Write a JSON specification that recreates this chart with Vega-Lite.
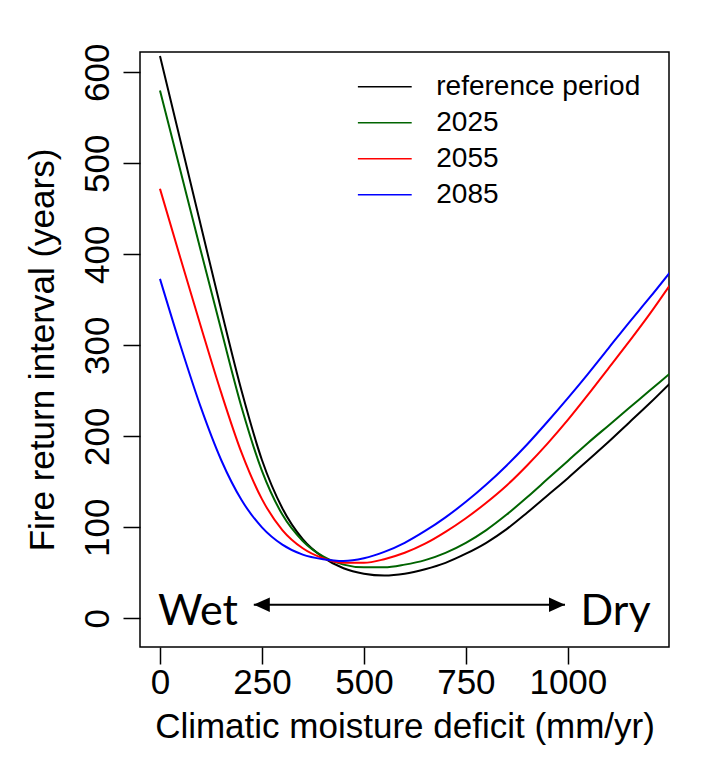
{
  "$schema": "https://vega.github.io/schema/vega-lite/v6.json",
  "width": 529,
  "height": 595,
  "autosize": {"type": "none"},
  "padding": {"left": 140, "top": 52, "right": 35, "bottom": 116},
  "background": "white",
  "config": {
    "view": {"stroke": "black", "strokeWidth": 1.5, "fill": "white"},
    "font": "Liberation Sans",
    "axis": {
      "domain": false,
      "grid": false,
      "ticks": true,
      "tickSize": 17,
      "tickColor": "black",
      "tickWidth": 1.5,
      "labelFont": "Liberation Sans",
      "labelFontSize": 35,
      "labelColor": "black",
      "titleFont": "Liberation Sans",
      "titleFontSize": 35,
      "titleFontWeight": "normal",
      "titleColor": "black"
    }
  },
  "datasets": {
    "curves": [
      {"cmd": 0, "fri": 618, "period": "reference period"},
      {"cmd": 50, "fri": 525, "period": "reference period"},
      {"cmd": 100, "fri": 432, "period": "reference period"},
      {"cmd": 150, "fri": 339, "period": "reference period"},
      {"cmd": 200, "fri": 250, "period": "reference period"},
      {"cmd": 250, "fri": 174, "period": "reference period"},
      {"cmd": 300, "fri": 121, "period": "reference period"},
      {"cmd": 350, "fri": 87, "period": "reference period"},
      {"cmd": 400, "fri": 67, "period": "reference period"},
      {"cmd": 450, "fri": 55, "period": "reference period"},
      {"cmd": 500, "fri": 49, "period": "reference period"},
      {"cmd": 550, "fri": 47, "period": "reference period"},
      {"cmd": 600, "fri": 49, "period": "reference period"},
      {"cmd": 650, "fri": 54, "period": "reference period"},
      {"cmd": 700, "fri": 61, "period": "reference period"},
      {"cmd": 750, "fri": 71, "period": "reference period"},
      {"cmd": 800, "fri": 83, "period": "reference period"},
      {"cmd": 850, "fri": 98, "period": "reference period"},
      {"cmd": 900, "fri": 116, "period": "reference period"},
      {"cmd": 950, "fri": 135, "period": "reference period"},
      {"cmd": 1000, "fri": 154, "period": "reference period"},
      {"cmd": 1050, "fri": 174, "period": "reference period"},
      {"cmd": 1100, "fri": 194, "period": "reference period"},
      {"cmd": 1150, "fri": 215, "period": "reference period"},
      {"cmd": 1200, "fri": 236, "period": "reference period"},
      {"cmd": 1250, "fri": 258, "period": "reference period"},

      {"cmd": 0, "fri": 580, "period": "2025"},
      {"cmd": 50, "fri": 492, "period": "2025"},
      {"cmd": 100, "fri": 404, "period": "2025"},
      {"cmd": 150, "fri": 317, "period": "2025"},
      {"cmd": 200, "fri": 232, "period": "2025"},
      {"cmd": 250, "fri": 162, "period": "2025"},
      {"cmd": 300, "fri": 114, "period": "2025"},
      {"cmd": 350, "fri": 85, "period": "2025"},
      {"cmd": 400, "fri": 68, "period": "2025"},
      {"cmd": 450, "fri": 59, "period": "2025"},
      {"cmd": 500, "fri": 56, "period": "2025"},
      {"cmd": 550, "fri": 56, "period": "2025"},
      {"cmd": 600, "fri": 59, "period": "2025"},
      {"cmd": 650, "fri": 64, "period": "2025"},
      {"cmd": 700, "fri": 72, "period": "2025"},
      {"cmd": 750, "fri": 83, "period": "2025"},
      {"cmd": 800, "fri": 97, "period": "2025"},
      {"cmd": 850, "fri": 114, "period": "2025"},
      {"cmd": 900, "fri": 133, "period": "2025"},
      {"cmd": 950, "fri": 153, "period": "2025"},
      {"cmd": 1000, "fri": 173, "period": "2025"},
      {"cmd": 1050, "fri": 193, "period": "2025"},
      {"cmd": 1100, "fri": 212, "period": "2025"},
      {"cmd": 1150, "fri": 231, "period": "2025"},
      {"cmd": 1200, "fri": 250, "period": "2025"},
      {"cmd": 1250, "fri": 269, "period": "2025"},

      {"cmd": 0, "fri": 472, "period": "2055"},
      {"cmd": 50, "fri": 396, "period": "2055"},
      {"cmd": 100, "fri": 321, "period": "2055"},
      {"cmd": 150, "fri": 248, "period": "2055"},
      {"cmd": 200, "fri": 182, "period": "2055"},
      {"cmd": 250, "fri": 131, "period": "2055"},
      {"cmd": 300, "fri": 97, "period": "2055"},
      {"cmd": 350, "fri": 77, "period": "2055"},
      {"cmd": 400, "fri": 66, "period": "2055"},
      {"cmd": 450, "fri": 61, "period": "2055"},
      {"cmd": 500, "fri": 61, "period": "2055"},
      {"cmd": 550, "fri": 65, "period": "2055"},
      {"cmd": 600, "fri": 72, "period": "2055"},
      {"cmd": 650, "fri": 82, "period": "2055"},
      {"cmd": 700, "fri": 95, "period": "2055"},
      {"cmd": 750, "fri": 110, "period": "2055"},
      {"cmd": 800, "fri": 127, "period": "2055"},
      {"cmd": 850, "fri": 146, "period": "2055"},
      {"cmd": 900, "fri": 168, "period": "2055"},
      {"cmd": 950, "fri": 192, "period": "2055"},
      {"cmd": 1000, "fri": 218, "period": "2055"},
      {"cmd": 1050, "fri": 246, "period": "2055"},
      {"cmd": 1100, "fri": 275, "period": "2055"},
      {"cmd": 1150, "fri": 304, "period": "2055"},
      {"cmd": 1200, "fri": 334, "period": "2055"},
      {"cmd": 1250, "fri": 366, "period": "2055"},

      {"cmd": 0, "fri": 373, "period": "2085"},
      {"cmd": 50, "fri": 300, "period": "2085"},
      {"cmd": 100, "fri": 232, "period": "2085"},
      {"cmd": 150, "fri": 174, "period": "2085"},
      {"cmd": 200, "fri": 130, "period": "2085"},
      {"cmd": 250, "fri": 100, "period": "2085"},
      {"cmd": 300, "fri": 81, "period": "2085"},
      {"cmd": 350, "fri": 70, "period": "2085"},
      {"cmd": 400, "fri": 65, "period": "2085"},
      {"cmd": 450, "fri": 63, "period": "2085"},
      {"cmd": 500, "fri": 66, "period": "2085"},
      {"cmd": 550, "fri": 73, "period": "2085"},
      {"cmd": 600, "fri": 83, "period": "2085"},
      {"cmd": 650, "fri": 96, "period": "2085"},
      {"cmd": 700, "fri": 111, "period": "2085"},
      {"cmd": 750, "fri": 128, "period": "2085"},
      {"cmd": 800, "fri": 147, "period": "2085"},
      {"cmd": 850, "fri": 168, "period": "2085"},
      {"cmd": 900, "fri": 191, "period": "2085"},
      {"cmd": 950, "fri": 216, "period": "2085"},
      {"cmd": 1000, "fri": 242, "period": "2085"},
      {"cmd": 1050, "fri": 269, "period": "2085"},
      {"cmd": 1100, "fri": 297, "period": "2085"},
      {"cmd": 1150, "fri": 325, "period": "2085"},
      {"cmd": 1200, "fri": 352, "period": "2085"},
      {"cmd": 1250, "fri": 380, "period": "2085"}
    ],
    "gradient": [
      {"start": 230, "end": 993, "level": 15}
    ],
    "arrowheads": [
      {"side": "wet", "cmd": 230, "level": 15},
      {"side": "dry", "cmd": 993, "level": 15}
    ],
    "ends": [
      {"word": "Wet", "cmd": -5, "level": -7, "anchor": "left"},
      {"word": "Dry", "cmd": 1203, "level": -7, "anchor": "right"}
    ]
  },
  "layer": [
    {
      "data": {"name": "curves"},
      "mark": {"type": "line", "strokeWidth": 2, "clip": true, "interpolate": "monotone"},
      "encoding": {
        "x": {
          "field": "cmd",
          "type": "quantitative",
          "scale": {"domain": [-49, 1248], "nice": false, "zero": false},
          "axis": {
            "values": [0, 250, 500, 750, 1000],
            "format": "d",
            "labelBaseline": "alphabetic",
            "labelPadding": 29,
            "labelFlush": false,
            "labelOverlap": false,
            "title": "Climatic moisture deficit (mm/yr)",
            "titleBaseline": "alphabetic",
            "titleY": 90
          }
        },
        "y": {
          "field": "fri",
          "type": "quantitative",
          "scale": {"domain": [-31.5, 622.3], "nice": false, "zero": false},
          "axis": {
            "values": [0, 100, 200, 300, 400, 500, 600],
            "format": "d",
            "labelAngle": 270,
            "labelAlign": "center",
            "labelBaseline": "alphabetic",
            "labelPadding": 15,
            "labelFlush": false,
            "labelOverlap": false,
            "title": "Fire return interval (years)",
            "titleAngle": 270,
            "titleAlign": "center",
            "titleBaseline": "alphabetic",
            "titleX": -87,
            "titleY": 297.5
          }
        },
        "color": {
          "field": "period",
          "type": "nominal",
          "sort": ["reference period", "2025", "2055", "2085"],
          "scale": {
            "domain": ["reference period", "2025", "2055", "2085"],
            "range": ["#000000", "#006400", "#ff0000", "#0000ff"]
          },
          "legend": {
            "title": null,
            "orient": "none",
            "legendX": 223.3,
            "legendY": 13.3,
            "padding": 0,
            "symbolType": "M-1.3,0L1.3,0",
            "symbolSize": 1714,
            "symbolStrokeWidth": 1.5,
            "symbolFillColor": "transparent",
            "labelFont": "Liberation Sans",
            "labelFontSize": 28,
            "labelColor": "black",
            "labelOffset": 30,
            "rowPadding": 0,
            "labelLimit": 400
          }
        }
      }
    },
    {
      "data": {"name": "gradient"},
      "mark": {"type": "rule", "color": "black", "strokeWidth": 2},
      "encoding": {
        "x": {"field": "start", "type": "quantitative"},
        "x2": {"field": "end"},
        "y": {"field": "level", "type": "quantitative"}
      }
    },
    {
      "data": {"name": "arrowheads"},
      "mark": {"type": "point", "filled": true, "color": "black", "opacity": 1, "size": 256, "strokeWidth": 0},
      "encoding": {
        "x": {"field": "cmd", "type": "quantitative"},
        "y": {"field": "level", "type": "quantitative"},
        "shape": {
          "field": "side",
          "type": "nominal",
          "scale": {
            "domain": ["wet", "dry"],
            "range": ["M0,0L2,-0.9L2,0.9Z", "M0,0L-2,-0.9L-2,0.9Z"]
          },
          "legend": null
        }
      }
    },
    {
      "data": {"name": "ends"},
      "transform": [{"filter": "datum.anchor == 'left'"}],
      "mark": {"type": "text", "font": "Lato", "fontSize": 43, "color": "black", "baseline": "alphabetic", "align": "left"},
      "encoding": {
        "x": {"field": "cmd", "type": "quantitative"},
        "y": {"field": "level", "type": "quantitative"},
        "text": {"field": "word"}
      }
    },
    {
      "data": {"name": "ends"},
      "transform": [{"filter": "datum.anchor == 'right'"}],
      "mark": {"type": "text", "font": "Lato", "fontSize": 43, "color": "black", "baseline": "alphabetic", "align": "right"},
      "encoding": {
        "x": {"field": "cmd", "type": "quantitative"},
        "y": {"field": "level", "type": "quantitative"},
        "text": {"field": "word"}
      }
    }
  ]
}
